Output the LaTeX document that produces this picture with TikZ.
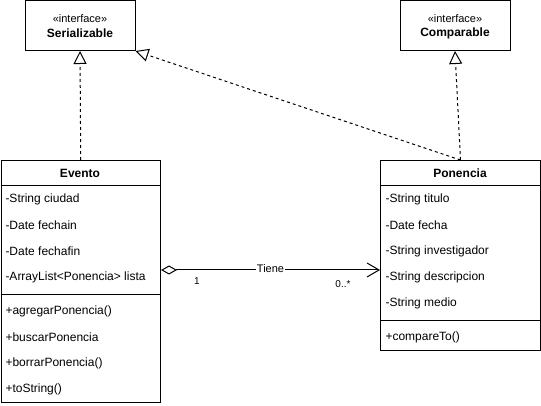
\documentclass[tikz,border=0pt]{standalone}
\usepackage{fontspec}
\setmainfont{Liberation Sans}
\usetikzlibrary{arrows.meta}
\begin{document}
\begin{tikzpicture}[x=1pt,y=-1pt, line width=1pt,
  box/.style={draw, line width=1pt, minimum width=110pt, minimum height=50pt, inner sep=0},
  cls/.style={draw, line width=1pt, anchor=north west, inner sep=0},
  mem/.style={anchor=west, inner sep=0, font=\fontsize{12}{14}\selectfont},
  ttl/.style={inner sep=0, font=\fontsize{12}{14}\selectfont\bfseries},
  stereo/.style={inner sep=0, font=\fontsize{11}{13}\selectfont},
  mult/.style={inner sep=0, font=\fontsize{10}{12}\selectfont},
  real/.style={line width=1pt, dash pattern=on 3pt off 3pt, -{Triangle[open,length=13pt,width=13pt,fill=white]}},
  aggr/.style={line width=1pt, {Diamond[open,length=16pt,width=9pt,fill=white]}-{Straight Barb[length=12pt,width=14pt]}},
  ]
\useasboundingbox (0,0) rectangle (541,406);
% interfaces
\node[box] (ser) at (80,25.5) {};
\node[stereo] (serst) at (80,19) {«interface»};
\node[ttl] (sert) at (80,33) {Serializable};
\node[box] (comp) at (455,25.5) {};
\node[stereo] (compst) at (455,19) {«interface»};
\node[ttl] (compt) at (455,33) {Comparable};
% Evento
\node[cls, minimum width=159.5pt, minimum height=242pt] (evento) at (0.5,160) {};
\draw ([yshift=-26pt]evento.north west) -- ([yshift=-26pt]evento.north east);
\draw ([yshift=-134pt]evento.north west) -- ([yshift=-134pt]evento.north east);
\node[ttl] (evt) at (80,173.5) {Evento};
\node[mem] (e1) at (5,199) {-String ciudad};
\node[mem] (e2) at (5,225) {-Date fechain};
\node[mem] (e3) at (5,251) {-Date fechafin};
\node[mem] (e4) at (5,277) {-ArrayList<Ponencia> lista};
\node[mem] (e5) at (5,311) {+agregarPonencia()};
\node[mem] (e6) at (5,337) {+buscarPonencia};
\node[mem] (e7) at (5,363) {+borrarPonencia()};
\node[mem] (e8) at (5,389) {+toString()};
% Ponencia
\node[cls, minimum width=160pt, minimum height=190pt] (pon) at (380,160) {};
\draw ([yshift=-26pt]pon.north west) -- ([yshift=-26pt]pon.north east);
\draw ([yshift=-160pt]pon.north west) -- ([yshift=-160pt]pon.north east);
\node[ttl] (pont) at (460,173.5) {Ponencia};
\node[mem] (p1) at (385,199) {-String titulo};
\node[mem] (p2) at (385,225) {-Date fecha};
\node[mem] (p3) at (385,251) {-String investigador};
\node[mem] (p4) at (385,277) {-String descripcion};
\node[mem] (p5) at (385,303) {-String medio};
\node[mem] (p6) at (385,337) {+compareTo()};
% realizations
\draw[real] (evento.north) -- (ser.south);
\draw[real] (pon.north) -- (comp.south);
\draw[real] (pon.north) -- (ser.south east);
% aggregation
\draw[aggr] ([yshift=-110pt]evento.north east) -- node[fill=white, inner sep=0.5pt, font=\fontsize{11}{13}\selectfont, yshift=1pt] (tiene) {Tiene} ([yshift=-110pt]pon.north west);
\node[mult] (m1) at (197,281) {1};
\node[mult] (m2) at (343,284) {0..*};
\end{tikzpicture}
\end{document}
